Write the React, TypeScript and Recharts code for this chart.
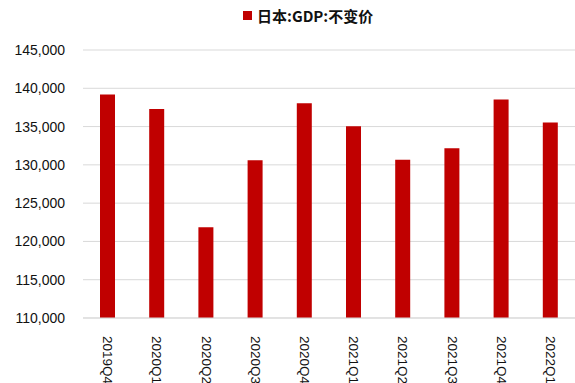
import React from 'react';
import { BarChart, Bar, XAxis, YAxis, CartesianGrid } from 'recharts';

const quarters = ['2019Q4', '2020Q1', '2020Q2', '2020Q3', '2020Q4', '2021Q1', '2021Q2', '2021Q3', '2021Q4', '2022Q1'];
const gdpValues = [139200, 137300, 121850, 130600, 138030, 135030, 130660, 132180, 138520, 135520];
const yTicks = [110000, 115000, 120000, 125000, 130000, 135000, 140000, 145000];

const seriesName = '日本:GDP:不变价';
const barColor = '#c00000';
const textFont = "'Liberation Sans', Arial, sans-serif";

const data = quarters.map((q, i) => ({ quarter: q, value: gdpValues[i] }));

const fmt = (v: number) => v.toLocaleString('en-US');

const QuarterTick = ({ x, y, payload }: any) => (
    <text
        x={x}
        y={y + 10}
        transform={`rotate(90, ${x}, ${y + 10})`}
        textAnchor="start"
        dominantBaseline="central"
        fill="#111"
        fontSize={13.5}
        style={{ fontFamily: textFont }}
    >
        {payload.value}
    </text>
);

export default function App() {
    return (
        <div style={{ position: 'absolute', left: 0, top: 0, width: 575, height: 383, background: '#fff', fontFamily: textFont }}>
            {/* legend drawn as plain html so it doesn't push the plot down */}
            <div style={{ position: 'absolute', top: 5, left: 243, display: 'flex', alignItems: 'center', height: 20 }}>
                <span style={{ width: 9, height: 9, background: barColor, display: 'inline-block', marginRight: 5 }} />
                <span style={{ fontSize: 15, fontWeight: 700, color: '#111', fontFamily: "'Noto Sans CJK SC', sans-serif" }}>
                    {seriesName}
                </span>
            </div>
            <BarChart width={575} height={383} data={data} margin={{ top: 50, right: 0, left: 0, bottom: 0 }}>
                <CartesianGrid vertical={false} stroke="#d9d9d9" strokeWidth={1} />
                <XAxis
                    dataKey="quarter"
                    interval={0}
                    height={65}
                    tickLine={false}
                    axisLine={{ stroke: '#d9d9d9' }}
                    tick={<QuarterTick />}
                />
                <YAxis
                    domain={[110000, 145000]}
                    ticks={yTicks}
                    width={83}
                    axisLine={false}
                    tickLine={false}
                    tickSize={0}
                    tickMargin={18}
                    tickFormatter={fmt}
                    tick={{ fill: '#111', fontSize: 14, style: { fontFamily: textFont } }}
                    allowDataOverflow
                />
                <Bar dataKey="value" fill={barColor} barSize={15} isAnimationActive={false} />
            </BarChart>
        </div>
    );
}
